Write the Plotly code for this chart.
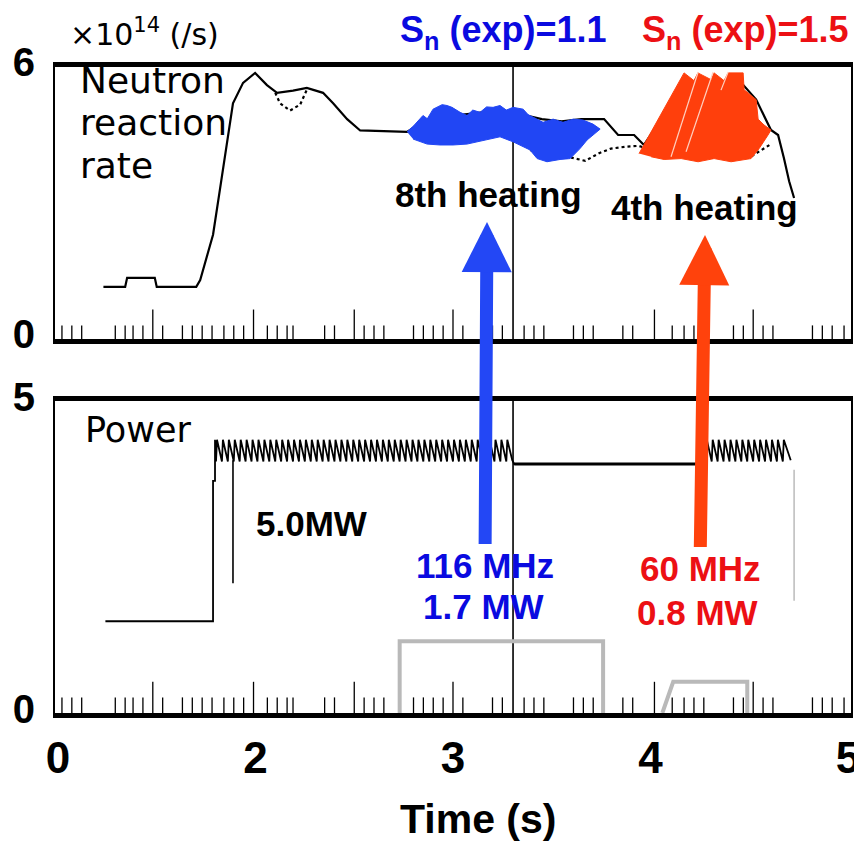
import plotly.graph_objects as go

# ---------------- data ----------------
time_tickvals = [1, 2, 3, 4, 5]
time_ticktext = ["0", "2", "3", "4", "5"]

# neutron reaction rate (x1e14 /s), solid trace
neutron_t = [1.23, 1.34, 1.35, 1.49, 1.50, 1.70, 1.72, 1.785, 1.82, 1.856, 1.886, 1.937, 1.998,
             2.058, 2.109, 2.19, 2.26, 2.342, 2.393, 2.464, 2.53, 2.767, 2.85, 2.95, 3.05, 3.15,
             3.25, 3.35, 3.45, 3.55, 3.65, 3.735, 3.765, 3.836, 3.917, 3.967, 4.17, 4.47, 4.535,
             4.61, 4.646, 4.676, 4.702, 4.727]
neutron_v = [1.15, 1.15, 1.35, 1.35, 1.15, 1.15, 1.30, 2.30, 3.30, 4.35, 5.20, 5.65, 5.87,
             5.60, 5.43, 5.48, 5.54, 5.43, 5.20, 4.85, 4.60, 4.57, 4.80, 5.00, 4.95, 5.00,
             5.05, 4.95, 4.85, 4.80, 4.85, 4.85, 4.85, 4.50, 4.50, 4.28, 5.60, 5.60, 5.28,
             4.61, 4.50, 3.98, 3.48, 3.11]

# dotted reference trace
ref1_t = [2.10, 2.124, 2.175, 2.226, 2.26]
ref1_v = [5.43, 5.20, 5.04, 5.17, 5.50]
ref2_t = [3.39, 3.45, 3.51, 3.60, 3.67, 3.74, 3.80, 3.87, 3.94, 4.10, 4.30, 4.50, 4.61]
ref2_v = [4.17, 4.09, 4.00, 4.00, 3.93, 4.10, 4.20, 4.24, 4.26, 4.05, 4.00, 4.00, 4.30]

# neutron enhancement during 116 MHz (8th harmonic) heating
blue_up_t = [2.767, 2.80, 2.848, 2.87, 2.899, 2.945, 2.970, 2.995, 3.036, 3.071, 3.10, 3.137, 3.17,
             3.203, 3.238, 3.27, 3.304, 3.355, 3.38, 3.405, 3.456, 3.507, 3.557, 3.608, 3.658,
             3.709, 3.745]
blue_up_v = [4.57, 4.70, 4.93, 4.86, 5.07, 5.17, 5.15, 5.11, 5.00, 4.93, 5.05, 5.00, 5.12,
             5.11, 5.15, 5.05, 5.11, 5.07, 4.95, 4.89, 4.78, 4.85, 4.78, 4.85, 4.83,
             4.74, 4.63]
blue_lo_t = [2.798, 2.869, 2.934, 3.000, 3.071, 3.137, 3.188, 3.238, 3.304, 3.355, 3.390, 3.426,
             3.476, 3.542, 3.593, 3.643, 3.679]
blue_lo_v = [4.41, 4.30, 4.28, 4.28, 4.30, 4.35, 4.41, 4.46, 4.35, 4.24, 4.17, 3.98,
             3.91, 3.96, 3.98, 4.20, 4.39]

# neutron enhancement during 60 MHz (4th harmonic) heating
red_up_t = [3.942, 4.17, 4.22, 4.24, 4.307, 4.322, 4.372, 4.393, 4.469, 4.474, 4.535, 4.545, 4.575, 4.61]
red_up_v = [4.09, 5.87, 5.70, 5.87, 5.72, 5.87, 5.70, 5.87, 5.87, 5.50, 5.28, 4.85, 4.72, 4.61]
red_lo_t = [4.003, 4.069, 4.155, 4.241, 4.322, 4.408, 4.509, 4.55, 4.595]
red_lo_v = [4.02, 3.96, 3.98, 3.91, 3.98, 3.91, 3.98, 4.20, 4.50]
red_gap_t = [[4.104, 4.241], [4.180, 4.317], [4.357, 4.393]]
red_gap_v = [[4.02, 5.89], [4.13, 5.89], [5.49, 5.89]]

# NBI power (MW)
power_lead_t = [1.24, 1.785, 1.785, 1.795, 1.795]
power_lead_v = [1.47, 1.47, 3.72, 3.72, 4.38]
saw1_peaks = [1.80, 1.83, 1.86, 1.89, 1.92, 1.95, 1.98, 2.01, 2.04, 2.07, 2.10, 2.13, 2.16,
              2.19, 2.22, 2.25, 2.28, 2.31, 2.34, 2.37, 2.40, 2.43, 2.46, 2.49, 2.52, 2.55,
              2.58, 2.61, 2.64, 2.67, 2.70, 2.73, 2.76, 2.79, 2.82, 2.85, 2.88, 2.91, 2.94,
              2.97, 3.00, 3.03, 3.06, 3.09, 3.12, 3.15, 3.18, 3.21, 3.24, 3.27]
saw2_peaks = [4.28, 4.31, 4.34, 4.37, 4.40, 4.43, 4.46, 4.49, 4.52, 4.55, 4.58, 4.61, 4.64, 4.67]
saw_hi, saw_lo = 4.38, 4.03
flat_t = [3.30, 3.31, 4.27]
flat_v = [4.05, 3.99, 3.99]
power_end_t, power_end_v = 4.71, 4.05
dip_t, dip_v = [1.886, 1.886], [4.05, 2.08]
drop_t, drop_v = [4.727, 4.727], [3.90, 1.80]

# ICRF power (gray)
icrf116_t = [2.73, 2.73, 3.76, 3.76]
icrf116_v = [0.0, 1.15, 1.15, 0.0]
icrf60_t = [4.06, 4.115, 4.49, 4.49]
icrf60_v = [0.0, 0.50, 0.50, 0.0]

# timing spikes on the baselines
spike_t = [1.02, 1.07, 1.12, 1.29, 1.34, 1.38, 1.43, 1.53, 1.63, 1.68, 1.73, 1.78, 1.84, 1.89,
           1.94, 2.06, 2.11, 2.16, 2.19, 2.35, 2.40, 2.55, 2.60, 2.65, 2.80, 2.85, 2.90, 2.95,
           3.05, 3.20, 3.25, 3.36, 3.41, 3.46, 3.61, 3.66, 3.71, 3.86, 3.91, 4.11, 4.17,
           4.22, 4.27, 4.42, 4.47, 4.57, 4.62, 4.82, 4.87, 4.92, 4.98]
spike_tall_t = [1.48, 1.99, 2.50, 3.00, 4.02, 4.52]

cursor_t = 3.304

# ---------------- styles ----------------
W, H = 862, 851
OFF = 8  # the page body margin that the browser adds around the figure
def PX(x):
    return (x - OFF) / W
def PY(y):
    return 1 - (y - OFF) / H

BLUE_FILL = "#2146f4"
RED_FILL = "#ff3f0c"
BLUE_TXT = "#0a0ae0"
RED_TXT = "#ec1014"
BOLD = "Liberation Sans, Arial, Helvetica, sans-serif"
REG = "DejaVu Sans, Verdana, sans-serif"

fig = go.Figure()

def spikes(ts, h, xa, ya, color="black", width=1.3):
    xs, ys = [], []
    for t in ts:
        xs += [t, t, None]
        ys += [0, h, None]
    fig.add_trace(go.Scatter(x=xs, y=ys, mode="lines", xaxis=xa, yaxis=ya,
                             line=dict(color=color, width=width), hoverinfo="skip", showlegend=False))

# ---- top panel ----
spikes(spike_t, 0.30, "x", "y")
spikes(spike_tall_t, 0.65, "x", "y")
fig.add_trace(go.Scatter(x=neutron_t, y=neutron_v, mode="lines", xaxis="x", yaxis="y",
                         line=dict(color="black", width=2.2), showlegend=False))
for tt, vv in [(ref1_t, ref1_v), (ref2_t, ref2_v)]:
    fig.add_trace(go.Scatter(x=tt, y=vv, mode="lines", xaxis="x", yaxis="y",
                             line=dict(color="black", width=2.2, dash="dot"), showlegend=False))
fig.add_trace(go.Scatter(x=blue_up_t + blue_lo_t[::-1], y=blue_up_v + blue_lo_v[::-1],
                         fill="toself", fillcolor=BLUE_FILL, mode="lines",
                         line=dict(color=BLUE_FILL, width=1), xaxis="x", yaxis="y", showlegend=False))
fig.add_trace(go.Scatter(x=red_up_t + red_lo_t[::-1], y=red_up_v + red_lo_v[::-1],
                         fill="toself", fillcolor=RED_FILL, mode="lines",
                         line=dict(color=RED_FILL, width=1), xaxis="x", yaxis="y", showlegend=False))
for tt, vv in zip(red_gap_t, red_gap_v):
    fig.add_trace(go.Scatter(x=tt, y=vv, mode="lines", xaxis="x", yaxis="y",
                             line=dict(color="#ffd0c0", width=1.2), showlegend=False))

# ---- bottom panel ----
spikes(spike_t, 0.25, "x2", "y2")
spikes(spike_tall_t, 0.50, "x2", "y2")
for tt, vv in [(icrf116_t, icrf116_v), (icrf60_t, icrf60_v)]:
    fig.add_trace(go.Scatter(x=tt, y=vv, mode="lines", xaxis="x2", yaxis="y2",
                             line=dict(color="#b9b9b9", width=4), showlegend=False))

pw_t, pw_v = list(power_lead_t), list(power_lead_v)
for p in saw1_peaks:
    pw_t += [p, p + 0.005]
    pw_v += [saw_lo, saw_hi]
pw_t += flat_t
pw_v += flat_v
for p in saw2_peaks:
    pw_t += [p, p + 0.005]
    pw_v += [saw_lo, saw_hi]
pw_t.append(power_end_t)
pw_v.append(power_end_v)
fig.add_trace(go.Scatter(x=pw_t, y=pw_v, mode="lines", xaxis="x2", yaxis="y2",
                         line=dict(color="black", width=1.8), showlegend=False))
fig.add_trace(go.Scatter(x=flat_t[1:], y=flat_v[1:], mode="lines", xaxis="x2", yaxis="y2",
                         line=dict(color="black", width=3), showlegend=False))
fig.add_trace(go.Scatter(x=dip_t, y=dip_v, mode="lines", xaxis="x2", yaxis="y2",
                         line=dict(color="black", width=1.6), showlegend=False))
fig.add_trace(go.Scatter(x=drop_t, y=drop_v, mode="lines", xaxis="x2", yaxis="y2",
                         line=dict(color="#aaaaaa", width=1.2), showlegend=False))

# ---------------- axes ----------------
xrange = [1 - 3 / 197.5, 5 + 3 / 197.5]
xdom = [PX(55), PX(851)]
common_x = dict(range=xrange, domain=xdom, showgrid=False, zeroline=False, showline=True,
                mirror=True, linecolor="black", linewidth=5, ticks="", automargin=False)
common_y = dict(showgrid=False, zeroline=False, showline=True, mirror=True, linecolor="black",
                linewidth=2, ticks="", ticklabelstandoff=10, automargin=False,
                tickfont=dict(family=BOLD, size=40, color="black", weight="bold"))
fig.update_layout(
    xaxis=dict(**common_x, anchor="y", showticklabels=False),
    xaxis2=dict(**common_x, anchor="y2", matches="x", tickvals=time_tickvals, ticktext=time_ticktext,
                tickfont=dict(family=BOLD, size=44, color="black", weight="bold"),
                ticklabelstandoff=2),
    yaxis=dict(**common_y, range=[0, 6], domain=[PY(339), PY(67)], anchor="x", tickvals=[0, 6],
               ticklabelshift=-5),
    yaxis2=dict(**common_y, range=[0, 5], domain=[PY(713), PY(401)], anchor="x2", tickvals=[0, 5],
                ticklabelshift=-4),
    width=W, height=H, margin=dict(l=0, r=0, t=0, b=0),
    paper_bgcolor="white", plot_bgcolor="white", showlegend=False,
)

# cursor line through both panels
for xr, yr in [("x", "y domain"), ("x2", "y2 domain")]:
    fig.add_shape(type="line", xref=xr, yref=yr, x0=cursor_t, x1=cursor_t, y0=0, y1=1,
                  line=dict(color="black", width=1.6), layer="below")

# ---------------- annotations ----------------
def txt(text, x, y, size, family, color="black", weight="normal", xanchor="center", arrow=None):
    if arrow is not None:
        tip_x, tip_y, acol = arrow
        kw = dict(showarrow=True, arrowhead=2, arrowsize=0.77, arrowwidth=13, arrowcolor=acol,
                  standoff=0, startstandoff=0, ax=x - tip_x, ay=y - tip_y)
        xa, ya = PX(tip_x), PY(tip_y)
    else:
        kw = dict(showarrow=False)
        xa, ya = PX(x), PY(y)
    fig.add_annotation(text=text, x=xa, y=ya, xref="paper", yref="paper",
                       xanchor=xanchor, yanchor="middle",
                       font=dict(family=family, size=size, color=color, weight=weight), **kw)

txt("×10<sup>14</sup> (/s)", 144, 33, 30, REG)
txt("Neutron", 78, 80, 36, REG, xanchor="left")
txt("reaction", 78, 123, 36, REG, xanchor="left")
txt("rate", 78, 166, 36, REG, xanchor="left")
txt("S<sub>n</sub> (exp)=1.1", 503, 32, 36, BOLD, BLUE_TXT, "bold")
txt("S<sub>n</sub> (exp)=1.5", 745, 32, 36, BOLD, RED_TXT, "bold")
txt("8th heating", 489, 194, 35, BOLD, weight="bold")
txt("4th heating", 704, 208, 35, BOLD, weight="bold")
txt("116 MHz", 485, 565, 35, BOLD, BLUE_TXT, "bold", arrow=(487, 222, "#2347f5"))
txt("1.7 MW", 484, 606, 35, BOLD, BLUE_TXT, "bold")
txt("60 MHz", 700, 568, 35, BOLD, RED_TXT, "bold", arrow=(705, 235, "#ff420c"))
txt("0.8 MW", 697, 612, 35, BOLD, RED_TXT, "bold")
txt("Power", 83, 430, 35, REG, xanchor="left")
txt("5.0MW", 311, 523, 35, BOLD, weight="bold")
txt("Time (s)", 478, 819, 41, BOLD, weight="bold")

fig.write_html("out.html")
